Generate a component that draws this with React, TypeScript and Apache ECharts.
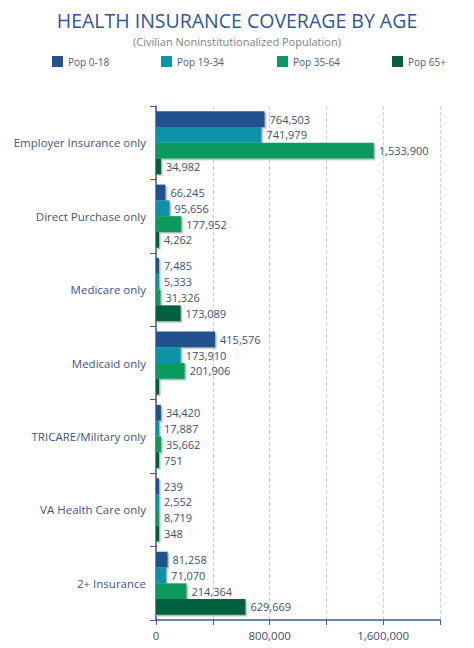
import React, { useEffect, useRef } from "react";
import * as echarts from "echarts";

const categories = [
  "Employer Insurance only",
  "Direct Purchase only",
  "Medicare only",
  "Medicaid only",
  "TRICARE/Military only",
  "VA Health Care only",
  "2+ Insurance",
];
const seriesNames = ["Pop 0-18", "Pop 19-34", "Pop 35-64", "Pop 65+"];
const pop0_18 = [764503, 66245, 7485, 415576, 34420, 239, 81258];
const pop19_34 = [741979, 95656, 5333, 173910, 17887, 2552, 71070];
const pop35_64 = [1533900, 177952, 31326, 201906, 35662, 8719, 214364];
const pop65 = [34982, 4262, 173089, 18000, 751, 348, 629669];
// labels hidden in the reference
const hiddenLabels65 = [false, false, false, true, false, false, false];
const colors = ["#24518f", "#0e93a8", "#0b9a5e", "#06603f"];
const legendLefts = [47, 156, 272, 387];

const fmt = (v: number) => v.toLocaleString("en-US");

export default function App() {
  const ref = useRef<HTMLDivElement>(null);
  useEffect(() => {
    if (!ref.current) return;
    const chart = echarts.init(ref.current, undefined, { renderer: "svg" });
    const all = [pop0_18, pop19_34, pop35_64, pop65];
    const font = "'Open Sans', sans-serif";
    chart.setOption({
      animation: false,
      textStyle: { fontFamily: font },
      title: {
        text: "HEALTH INSURANCE COVERAGE BY AGE",
        subtext: "(Civilian Noninstitutionalized Population)",
        left: "center",
        top: 5,
        itemGap: 6,
        textStyle: { fontFamily: font, fontSize: 19.5, fontWeight: 500, color: "#2f559a" },
        subtextStyle: { fontFamily: font, fontSize: 11, color: "#7a7f88" },
      },
      legend: seriesNames.map((n, i) => ({
        data: [n],
        left: legendLefts[i],
        top: 51,
        itemWidth: 11,
        itemHeight: 11,
        itemGap: 6,
        icon: "rect",
        textStyle: { fontFamily: font, fontSize: 10, color: "#4a5b7c" },
      })),
      grid: { left: 156, right: 34, top: 106, bottom: 28, containLabel: false },
      xAxis: {
        type: "value",
        min: 0,
        max: 2000000,
        interval: 400000,
        axisLine: { show: true, lineStyle: { color: "#3b5b96", width: 1.5 } },
        axisTick: { show: true, length: 5, lineStyle: { color: "#3b5b96" } },
        axisLabel: {
          interval: 1,
          formatter: (v: number) => (v % 800000 === 0 && v < 2000000 ? fmt(v) : ""),
          color: "#3d4f70",
          fontSize: 11.5,
          margin: 9,
          fontFamily: font,
        },
        splitLine: { show: true, lineStyle: { color: "#c9d3e6", type: "dashed" } },
      },
      yAxis: {
        type: "category",
        data: categories,
        inverse: true,
        axisLine: { show: true, lineStyle: { color: "#3b5b96", width: 1.5 } },
        axisTick: { show: true, length: 6, lineStyle: { color: "#3b5b96" } },
        axisLabel: { color: "#3d5583", fontSize: 11.5, margin: 10, fontFamily: font },
      },
      series: seriesNames.map((n, i) => ({
        name: n,
        type: "bar",
        barGap: "0%",
        barCategoryGap: "14%",
        barMinHeight: 3,
        data: all[i].map((v, j) => ({
          value: v,
          label: i === 3 && hiddenLabels65[j] ? { show: false } : undefined,
        })),
        itemStyle: {
          color: colors[i],
          shadowColor: "rgba(0,0,0,0.3)",
          shadowBlur: 0,
          shadowOffsetX: 1.5,
          shadowOffsetY: 1.5,
        },
        label: {
          show: true,
          position: "right",
          distance: 5,
          formatter: (p: any) => fmt(p.value),
          color: "#3d4f70",
          fontSize: 11,
          fontFamily: font,
        },
      })),
    });
    return () => chart.dispose();
  }, []);
  return (
    <div
      ref={ref}
      style={{ position: "absolute", left: 0, top: 0, width: 474, height: 648 }}
    />
  );
}
